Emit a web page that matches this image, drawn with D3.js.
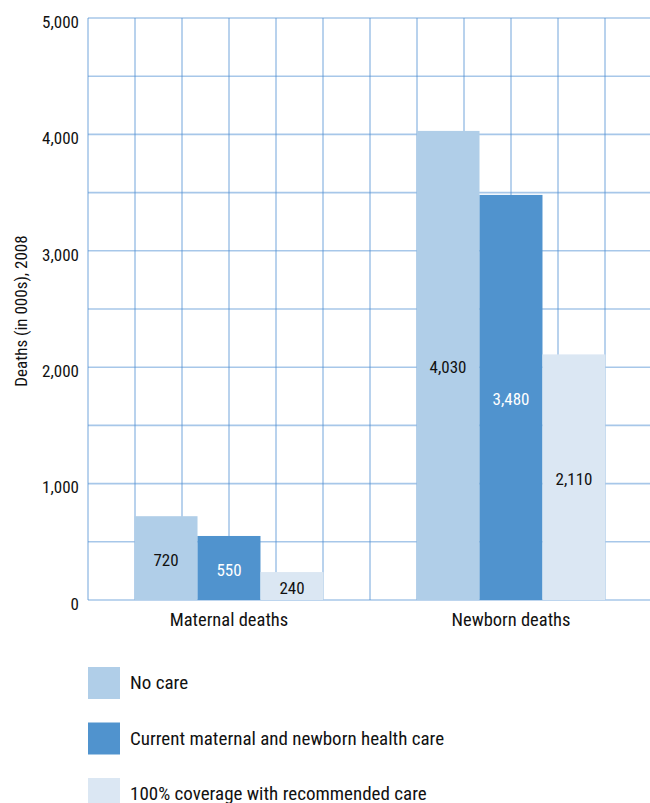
<!DOCTYPE html>
<html><head><meta charset="utf-8">
<script src="https://cdn.jsdelivr.net/npm/d3@7"></script>
<style>body{margin:0;background:#fff}svg text{font-family:"Roboto Condensed","Liberation Sans Narrow",sans-serif;}</style>
</head><body><svg id="c" width="650" height="803"></svg>
<script>
const categories = ["Maternal deaths", "Newborn deaths"];
const seriesNames = ["No care", "Current maternal and newborn health care", "100% coverage with recommended care"];
const noCare = [720, 4030];
const currentCare = [550, 3480];
const fullCoverage = [240, 2110];
const yTicks = [0, 1000, 2000, 3000, 4000, 5000];
const colors = ["#b0cee8", "#5093ce", "#dbe7f3"];
const labelColors = ["#111", "#fff", "#111"];
const series = [noCare, currentCare, fullCoverage];
const FONT = '"Roboto Condensed","Liberation Sans Narrow",sans-serif';

const svg = d3.select("#c");
const W = 564, H = 582;
const g = svg.append("g").attr("transform", "translate(88,18)");

const x = d3.scaleBand().domain(categories).range([0, W]).paddingInner(0.33).paddingOuter(0.165);
const xs = d3.scaleBand().domain(d3.range(series.length)).range([0, x.bandwidth()]);
const y = d3.scaleLinear().domain([0, 5000]).range([H, 0]);
const gx = d3.scaleLinear().domain([0, 12]).range([0, W]);

// grid
const gridC = "#4f8fd3";
g.append("g").selectAll("line").data(d3.range(0, 5001, 500)).join("line")
  .attr("x1", 0).attr("x2", W).attr("y1", d => y(d)).attr("y2", d => y(d))
  .attr("stroke", gridC).attr("stroke-opacity", 0.5).attr("stroke-width", 1.6);
g.append("g").selectAll("line").data(d3.range(0, 13)).join("line")
  .attr("x1", d => gx(d)).attr("x2", d => gx(d)).attr("y1", 0).attr("y2", H)
  .attr("stroke", gridC).attr("stroke-opacity", 0.5).attr("stroke-width", 1.6);

// bars
series.forEach((vals, si) => {
  const gs = g.append("g");
  gs.selectAll("rect").data(vals).join("rect")
    .attr("x", (d, i) => x(categories[i]) + xs(si))
    .attr("width", xs.bandwidth())
    .attr("y", d => y(d))
    .attr("height", d => H - y(d))
    .attr("fill", colors[si]);
  gs.selectAll("text").data(vals).join("text")
    .attr("x", (d, i) => x(categories[i]) + xs(si) + xs.bandwidth() / 2)
    .attr("y", d => (y(d) + H) / 2 + 2)
    .attr("dy", "0.35em")
    .attr("text-anchor", "middle")
    .attr("font-size", 17)
    .attr("fill", labelColors[si])
    .text(d => d3.format(",")(d));
});

// y axis labels
const ya = g.append("g").call(d3.axisLeft(y).tickValues(yTicks).tickFormat(d3.format(",")).tickSize(0).tickPadding(9));
ya.select(".domain").remove();
ya.selectAll("text").attr("font-size", 17).attr("fill", "#111").attr("dy", "0.55em").style("font-family", FONT);

// x axis labels
const xa = g.append("g").attr("transform", `translate(0,${H})`).call(d3.axisBottom(x).tickSize(0).tickPadding(13));
xa.select(".domain").remove();
xa.selectAll("text").attr("font-size", 18.5).attr("fill", "#111").style("font-family", FONT);

// y title
svg.append("text").attr("transform", "translate(21,311) rotate(-90)")
  .attr("text-anchor", "middle").attr("dy", "0.35em").attr("font-size", 17).attr("fill", "#111")
  .text("Deaths (in 000s), 2008");

// legend
const lg = svg.append("g").attr("transform", "translate(88,667)");
const ly = d3.scalePoint().domain(seriesNames).range([0, 111]);
lg.selectAll("rect").data(seriesNames).join("rect")
  .attr("x", 0).attr("y", d => ly(d)).attr("width", 32).attr("height", 32)
  .attr("fill", (d, i) => colors[i]);
lg.selectAll("text").data(seriesNames).join("text")
  .attr("x", 42).attr("y", d => ly(d) + 16).attr("dy", "0.33em")
  .attr("font-size", 19).attr("fill", "#111").text(d => d);
</script></body></html>
